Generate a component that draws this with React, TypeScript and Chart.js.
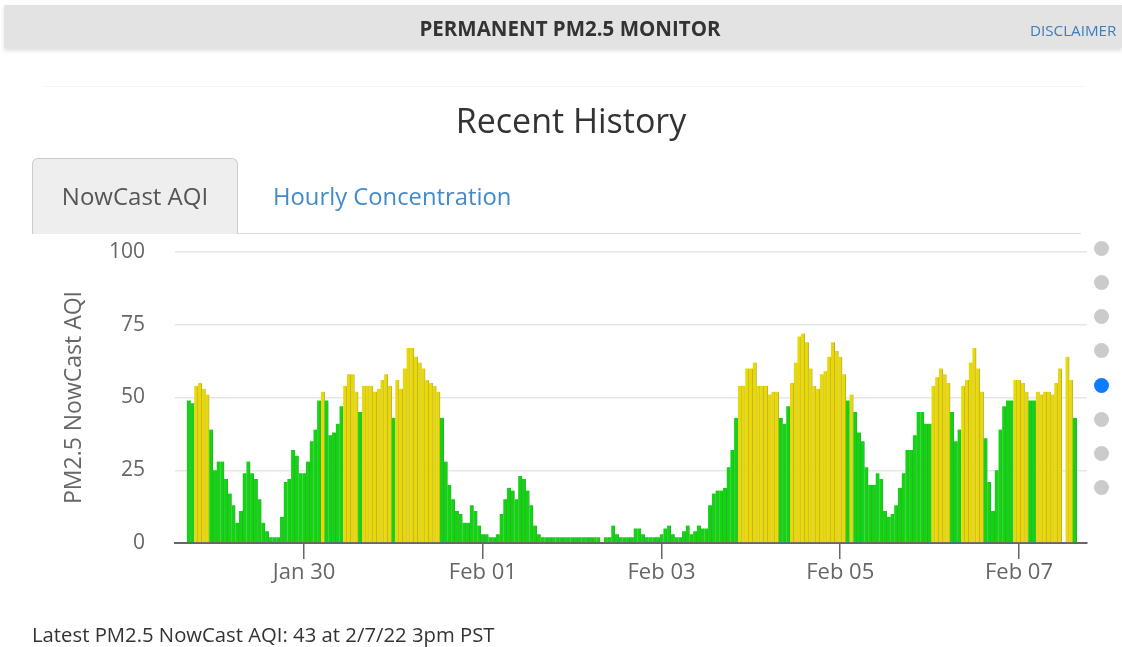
import React, { useEffect, useRef } from 'react';
import { Chart, registerables } from 'chart.js';

Chart.register(...registerables);

// Hourly NowCast AQI, first value = Jan 28 2022 17:00 (PST)
const startUTC = Date.UTC(2022, 0, 28, 17);
const jan28 = [49, 48, 54, 55, 53, 51, 39];
const jan29 = [25, 28, 28, 22, 17, 13, 7, 11, 24, 28, 24, 22, 15, 7, 4, 2, 2, 2, 9, 21, 22, 32, 30, 24];
const jan30 = [24, 28, 35, 39, 49, 52, 49, 37, 38, 41, 47, 54, 58, 58, 52, 45, 54, 54, 54, 52, 53, 56, 58, 54];
const jan31 = [43, 56, 53, 60, 67, 67, 64, 62, 60, 56, 55, 54, 52, 43, 28, 20, 15, 11, 10, 7, 7, 13, 11, 6];
const feb01 = [3, 3, 2, 2, 3, 10, 15, 19, 18, 15, 23, 22, 18, 13, 6, 3, 2, 2, 2, 2, 2, 2, 2, 2];
const feb02 = [2, 2, 2, 2, 2, 2, 2, 2, null, 2, 2, 6, 3, 2, 2, 2, 2, 5, 5, 3, 2, 2, 2, 2];
const feb03 = [3, 5, 6, 3, 2, 2, 4, 6, 3, 4, 6, 5, 5, 13, 17, 18, 18, 19, 26, 32, 43, 54, 54, 60];
const feb04 = [60, 62, 54, 54, 54, 51, 52, 52, 43, 41, 47, 55, 62, 71, 72, 69, 60, 54, 53, 58, 59, 64, 69, 66];
const feb05 = [64, 58, 49, 51, 45, 38, 35, 26, 20, 20, 24, 22, 11, 9, 10, 13, 19, 24, 32, 32, 37, 45, 45, 41];
const feb06 = [41, 54, 57, 60, 58, 55, 45, 35, 39, 54, 56, 62, 67, 60, 52, 36, 21, 11, 25, 39, 47, 49, 49, 56];
const feb07 = [56, 55, 52, 49, 49, 52, 51, 52, 52, 51, 55, 60, null, 64, 56, 43];

const tickDatesUTC = [
  Date.UTC(2022, 0, 30),
  Date.UTC(2022, 1, 1),
  Date.UTC(2022, 1, 3),
  Date.UTC(2022, 1, 5),
  Date.UTC(2022, 1, 7),
];
const tickLabels = ['Jan 30', 'Feb 01', 'Feb 03', 'Feb 05', 'Feb 07'];
const yTickValues = [0, 25, 50, 75, 100];

const GREEN = 'rgb(18, 212, 18)';
const GREEN_EDGE = 'rgb(60, 160, 60)';
const YELLOW = 'rgb(232, 216, 8)';
const YELLOW_EDGE = 'rgb(170, 162, 70)';
const FONT = "'Open Sans', sans-serif";

function AqiChart() {
  const ref = useRef<HTMLCanvasElement | null>(null);
  useEffect(() => {
    if (!ref.current) return;
    const values = [...jan28, ...jan29, ...jan30, ...jan31, ...feb01, ...feb02, ...feb03, ...feb04, ...feb05, ...feb06, ...feb07];
    const points = values.map((v, i) => ({ x: i, y: v }));
    const bg = values.map((v) => (v != null && v > 50 ? YELLOW : GREEN));
    const edge = values.map((v) => (v != null && v > 50 ? YELLOW_EDGE : GREEN_EDGE));
    const tickIdx = tickDatesUTC.map((d) => (d - startUTC) / 3600000);
    const chart = new Chart(ref.current, {
      type: 'bar',
      data: {
        datasets: [
          {
            data: points as any,
            backgroundColor: bg,
            borderColor: edge,
            borderWidth: { left: 0, right: 0.8, top: 0, bottom: 0 } as any,
            barPercentage: 1,
            categoryPercentage: 1,
          },
        ],
      },
      options: {
        animation: false,
        responsive: false,
        maintainAspectRatio: false,
        layout: { padding: { left: 0, top: 252, right: 35, bottom: 54 } },
        plugins: { legend: { display: false }, tooltip: { enabled: false } },
        scales: {
          x: {
            type: 'linear',
            min: -3.68,
            max: 241.28,
            offset: false,
            afterFit: (s: any) => {
              s.height = 50;
            },
            afterBuildTicks: (s: any) => {
              s.ticks = tickIdx.map((v) => ({ value: v }));
            },
            ticks: {
              autoSkip: false,
              maxRotation: 0,
              color: '#666',
              padding: 1,
              font: { family: FONT, size: 22 },
              callback: (v: any) => {
                const k = tickIdx.indexOf(Number(v));
                return k >= 0 ? tickLabels[k] : '';
              },
            },
            grid: { drawOnChartArea: false, drawTicks: true, tickLength: 16, color: '#666', lineWidth: 1.5, offset: false },
            border: { color: '#666', width: 2 },
          } as any,
          y: {
            min: 0,
            max: 100,
            afterFit: (s: any) => {
              s.width = 175;
            },
            afterBuildTicks: (s: any) => {
              s.ticks = yTickValues.map((v) => ({ value: v }));
            },
            ticks: { color: '#666', padding: 30, font: { family: FONT, size: 21 } },
            grid: { color: '#e6e6e6', lineWidth: 1.5, drawTicks: false },
            border: { display: false },
            title: {
              display: true,
              text: 'PM2.5 NowCast AQI',
              color: '#666',
              font: { family: FONT, size: 23 },
              padding: { top: 60.2, bottom: 0 },
            },
          } as any,
        },
      },
    });
    return () => chart.destroy();
  }, []);
  return <canvas ref={ref} width={1122} height={647} style={{ position: 'absolute', left: 0, top: 0, width: 1122, height: 647 }} />;
}

const dotYs = [248, 282, 316, 350, 385, 419, 453, 487];

export default function App() {
  return (
    <div style={{ position: 'absolute', left: 0, top: 0, width: 1122, height: 647, overflow: 'hidden', background: '#fff', fontFamily: FONT }}>
      <AqiChart />
      <div style={{ position: 'absolute', left: 4, top: 5, width: 1118, height: 43, background: '#e3e3e3', boxShadow: '0 3px 4px rgba(0,0,0,0.12)' }} />
      <div style={{ position: 'absolute', left: 0, width: 1140, top: 14, textAlign: 'center', fontWeight: 700, fontSize: 20.5, color: '#333', lineHeight: '28px' }}>
        PERMANENT PM2.5 MONITOR
      </div>
      <div style={{ position: 'absolute', left: 1030, top: 21, fontSize: 15.2, color: '#3c7dbf', lineHeight: '18px' }}>DISCLAIMER</div>
      <div style={{ position: 'absolute', left: 45, top: 86, width: 1040, height: 1, background: '#f3f3f3' }} />
      <div style={{ position: 'absolute', left: 0, width: 1142, top: 97, textAlign: 'center', fontSize: 34, color: '#333', lineHeight: '46px' }}>
        Recent History
      </div>
      <div style={{ position: 'absolute', left: 32, top: 158, width: 206, height: 76, background: '#eee', border: '1px solid #ccc', borderBottom: 'none', borderRadius: '6px 6px 0 0', boxSizing: 'border-box' }} />
      <div style={{ position: 'absolute', left: 32, width: 206, top: 179, textAlign: 'center', fontSize: 24, color: '#555', lineHeight: '34px' }}>NowCast AQI</div>
      <div style={{ position: 'absolute', left: 273, top: 179, fontSize: 23.8, color: '#428bca', lineHeight: '34px' }}>Hourly Concentration</div>
      <div style={{ position: 'absolute', left: 238, top: 233, width: 843, height: 1, background: '#ddd' }} />
      {dotYs.map((y, i) => (
        <div key={i} style={{ position: 'absolute', left: 1094, top: y - 7.5, width: 15, height: 15, borderRadius: '50%', background: i === 4 ? '#0f7bff' : '#cbcbcb' }} />
      ))}
      <div style={{ position: 'absolute', left: 32, top: 622, fontSize: 20.3, color: '#333', lineHeight: '24px' }}>
        Latest PM2.5 NowCast AQI: 43 at 2/7/22 3pm PST
      </div>
    </div>
  );
}
